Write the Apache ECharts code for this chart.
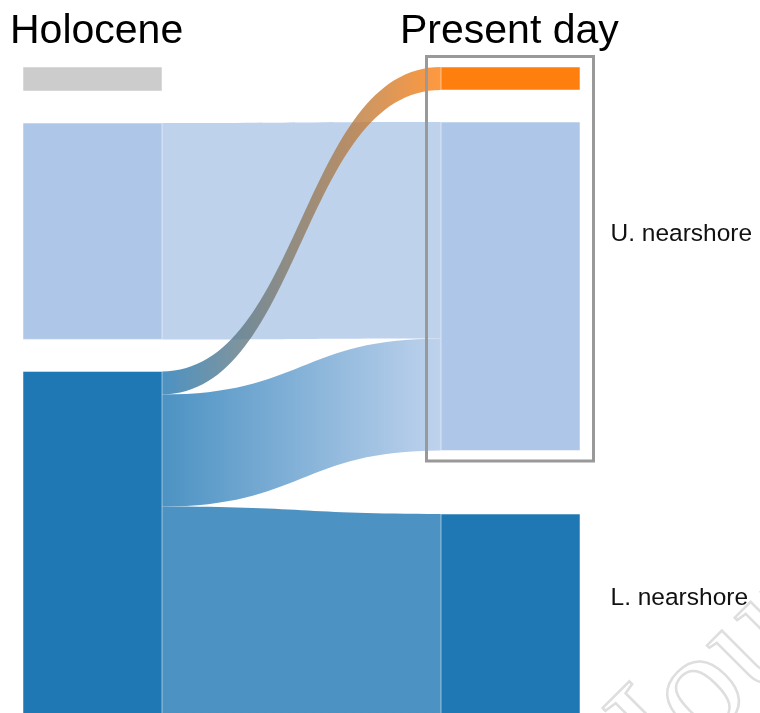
<!DOCTYPE html>
<html>
<head>
<meta charset="UTF-8">
<title>Holocene vs present day</title>
<style>
  html, body { margin: 0; padding: 0; background: #fff; }
  #chart { width: 760px; height: 713px; }
</style>
</head>
<body>
<div id="chart"></div>
<script src="https://cdn.jsdelivr.net/npm/echarts@6/dist/echarts.min.js"></script>
<script>
// left column = Holocene, right column = Present day
var holoceneNodes = ['H-other', 'H-U. nearshore', 'H-L. nearshore'];
var presentNodes = ['P-new', 'P-U. nearshore', 'P-L. nearshore'];
var nodeLabels = ['', 'U. nearshore', 'L. nearshore'];
// node with no flows keeps its own size
var unlinkedValues = { 'H-other': 24 };

var flowSource = ['H-U. nearshore', 'H-L. nearshore', 'H-L. nearshore', 'H-L. nearshore'];
var flowTarget = ['P-U. nearshore', 'P-new', 'P-U. nearshore', 'P-L. nearshore'];
var flowValue = [216, 23, 112, 262];

var nodeColors = {
    'H-other': '#cccccc', 'H-U. nearshore': '#aec7e8', 'H-L. nearshore': '#1f77b4',
    'P-new': '#ff7f0e', 'P-U. nearshore': '#aec7e8', 'P-L. nearshore': '#1f77b4'
};
var labelShift = [0, -52, -47];

var nodes = [];
holoceneNodes.forEach(function (n) {
    var item = { name: n, depth: 0, itemStyle: { color: nodeColors[n] }, label: { show: false } };
    if (unlinkedValues[n] != null) item.value = unlinkedValues[n];
    nodes.push(item);
});
presentNodes.forEach(function (n, i) {
    var item = { name: n, depth: 1, itemStyle: { color: nodeColors[n] } };
    if (nodeLabels[i]) {
        item.label = { show: true, formatter: nodeLabels[i], offset: [0, labelShift[i]] };
    } else {
        item.label = { show: false };
    }
    nodes.push(item);
});
// lower present-day block sits further down than the default gap
nodes[5].localY = 0.6368;

var links = flowSource.map(function (s, i) {
    return { source: s, target: flowTarget[i], value: flowValue[i] };
});

var chart = echarts.init(document.getElementById('chart'), null, { renderer: 'canvas' });
chart.setOption({
    animation: false,
    backgroundColor: '#fff',
    graphic: [
        { type: 'text', x: 10, y: 32, style: { text: 'Holocene', font: '41px "Liberation Sans", Arial', fill: '#000', textVerticalAlign: 'middle' } },
        { type: 'text', x: 400, y: 32, style: { text: 'Present day', font: '41px "Liberation Sans", Arial', fill: '#000', textVerticalAlign: 'middle' } },
        { type: 'rect', z: 100, shape: { x: 426.5, y: 56.5, width: 167, height: 404.5 }, style: { fill: 'none', stroke: '#999', lineWidth: 3 } },
        // faint diagonal watermark, mostly off the page
        { type: 'text', z: 0, x: 685, y: 815, rotation: Math.PI / 4, silent: true,
          style: { text: 'Journal Pre-proof', font: '150px "Liberation Serif", serif', fill: 'none', stroke: '#dedede', lineWidth: 2.5, textVerticalAlign: 'bottom' } }
    ],
    series: [{
        type: 'sankey',
        left: 23,
        right: 180,
        top: 67,
        bottom: -56,
        nodeWidth: 139,
        nodeGap: 32,
        nodeAlign: 'left',
        layoutIterations: 0,
        draggable: false,
        silent: true,
        data: nodes,
        links: links,
        itemStyle: { borderWidth: 1, borderColor: 'rgba(255,255,255,0.5)' },
        lineStyle: { color: 'gradient', opacity: 0.8, curveness: 0.5 },
        label: {
            position: 'right',
            distance: 30,
            fontSize: 24.5,
            color: '#111',
            fontFamily: '"Liberation Sans", Arial'
        },
        emphasis: { focus: 'none' }
    }]
});
</script>
</body>
</html>
